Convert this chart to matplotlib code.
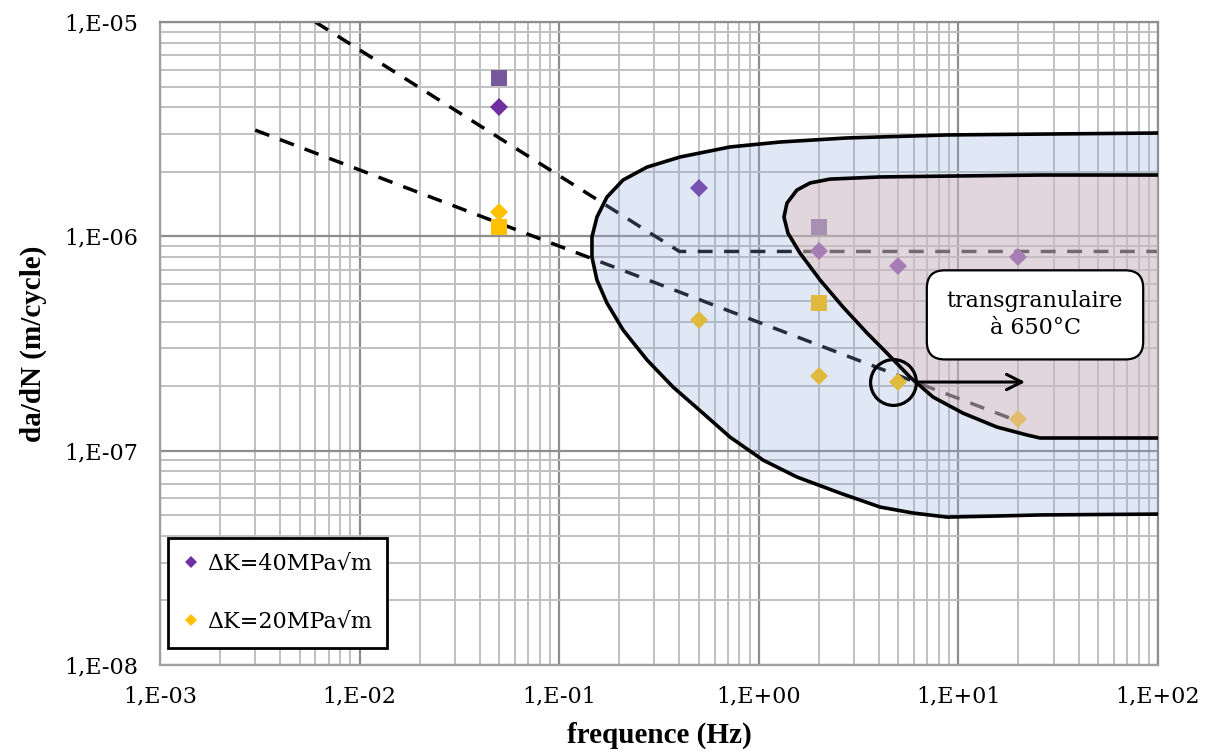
#!/usr/bin/python3

import numpy as np
import matplotlib
matplotlib.use('Agg')
import matplotlib.pyplot as plt
from matplotlib.ticker import LogLocator, FixedLocator, NullFormatter

# measured points, diamonds
freq = [0.05, 0.5, 2, 5, 20]
dadn_40 = [4.0e-6, 1.68e-6, 8.5e-7, 7.25e-7, 8.0e-7]
dadn_20 = [1.3e-6, 4.05e-7, 2.23e-7, 2.09e-7, 1.4e-7]

# square points (not in legend)
freq_sq = [0.05, 2]
dadn_sq40 = [5.5e-6, 1.1e-6]
dadn_sq20 = [1.1e-6, 4.9e-7]

# dashed trend lines
trend40_f = [0.006, 0.40, 100]
trend40_v = [1.0e-5, 8.5e-7, 8.5e-7]
trend20_f = [0.003, 20.4]
trend20_v = [3.13e-6, 1.36e-7]

# hand drawn domains (log10 freq, log10 da/dN)
blue_lf = [2.0, 1.409, 0.943, 0.442, 0.106, -0.144, -0.395, -0.560, -0.680, -0.761, -0.811,
           -0.836, -0.836, -0.811, -0.761, -0.680, -0.560, -0.430, -0.280, -0.144, 0.021,
           0.191, 0.407, 0.607, 0.773, 0.943, 1.193, 1.409, 2.0]
blue_lv = [-5.518, -5.523, -5.527, -5.541, -5.560, -5.583, -5.630, -5.677, -5.737, -5.817, -5.910,
           -6.003, -6.097, -6.204, -6.311, -6.437, -6.577, -6.703, -6.825, -6.937, -7.044,
           -7.123, -7.198, -7.263, -7.291, -7.310, -7.305, -7.300, -7.296]
pink_lf = [2.0, 1.409, 0.943, 0.607, 0.357, 0.257, 0.191, 0.141, 0.126, 0.146, 0.206, 0.307,
           0.422, 0.542, 0.642, 0.758, 0.873, 1.023, 1.193, 1.344, 1.409, 2.0]
pink_lv = [-5.714, -5.714, -5.719, -5.723, -5.733, -5.751, -5.784, -5.845, -5.910, -5.985, -6.078, -6.204,
           -6.330, -6.451, -6.545, -6.657, -6.750, -6.825, -6.890, -6.927, -6.941, -6.941]

labels = ['\u0394K=40MPa\u221am', '\u0394K=20MPa\u221am']
xticks = [1e-3, 1e-2, 1e-1, 1e0, 1e1, 1e2]
xtick_labels = ['1,E-03', '1,E-02', '1,E-01', '1,E+00', '1,E+01', '1,E+02']
yticks = [1e-8, 1e-7, 1e-6, 1e-5]
ytick_labels = ['1,E-08', '1,E-07', '1,E-06', '1,E-05']

purple = '#7030A0'
yellow = '#FFC000'


def main():
	fig = plt.figure(figsize=(12.06, 7.56), dpi=100)
	ax = fig.add_axes([0.1327, 0.1204, 0.8275, 0.8505])
	ax.set_xscale('log')
	ax.set_yscale('log')
	ax.set_xlim(1e-3, 1e2)
	ax.set_ylim(1e-8, 1e-5)

	ax.xaxis.set_major_locator(FixedLocator(xticks))
	ax.yaxis.set_major_locator(FixedLocator(yticks))
	ax.set_xticklabels(xtick_labels)
	ax.set_yticklabels(ytick_labels)
	ax.xaxis.set_minor_locator(LogLocator(base=10, subs=np.arange(2, 10), numticks=20))
	ax.yaxis.set_minor_locator(LogLocator(base=10, subs=np.arange(2, 10), numticks=20))
	ax.xaxis.set_minor_formatter(NullFormatter())
	ax.yaxis.set_minor_formatter(NullFormatter())
	ax.grid(which='major', color='#8e8e8e', lw=1.6, zorder=0)
	ax.grid(which='minor', color='#c0c0c0', lw=1.4, zorder=0)
	ax.set_axisbelow(True)
	ax.tick_params(which='both', length=0)
	ax.tick_params(axis='y', pad=16, labelsize=16)
	ax.tick_params(axis='x', pad=15, labelsize=16)
	for lab in ax.get_xticklabels() + ax.get_yticklabels():
		lab.set_family('DejaVu Serif')
	for s in ['left', 'bottom']:
		ax.spines[s].set_color('#a0a0a0')
		ax.spines[s].set_linewidth(1.6)
	for s in ['top', 'right']:
		ax.spines[s].set_color('#8e8e8e')
		ax.spines[s].set_linewidth(1.6)

	# trend lines and points under the domains
	ax.plot(trend40_f, trend40_v, color='black', lw=2.5, dashes=(4.3, 3.3), zorder=2)
	ax.plot(trend20_f, trend20_v, color='black', lw=2.5, dashes=(4.3, 3.3), zorder=2)
	ax.plot(freq_sq, dadn_sq40, 's', color='#76599A', ms=12, mew=0, zorder=2)
	ax.plot(freq_sq, dadn_sq20, 's', color=yellow, ms=12, mew=0, zorder=2)
	ax.plot(freq, dadn_40, 'D', color=purple, ms=9, mew=0, zorder=2)
	ax.plot(freq, dadn_20, 'D', color=yellow, ms=9, mew=0, zorder=2)

	# domains
	bf = np.power(10.0, blue_lf)
	bv = np.power(10.0, blue_lv)
	pf = np.power(10.0, pink_lf)
	pv = np.power(10.0, pink_lv)
	ax.fill(bf, bv, color='#8FADE1', alpha=0.27, lw=0, zorder=3)
	ax.fill(pf, pv, color='#E6BEBB', alpha=0.42, lw=0, zorder=3)
	ax.plot(bf, bv, color='black', lw=2.6, zorder=4, solid_joinstyle='round', solid_capstyle='round')
	ax.plot(pf, pv, color='black', lw=2.6, zorder=4, solid_joinstyle='round', solid_capstyle='round')

	# annotation
	ax.plot([4.7], [2.09e-7], 'o', ms=33, mfc='none', mec='black', mew=2.3, zorder=5)
	ax.annotate('', xy=(22.3, 2.09e-7), xytext=(6.07, 2.09e-7),
				arrowprops=dict(arrowstyle='->,head_length=1.1,head_width=0.55', color='black', lw=2.2),
				zorder=5)
	ax.text(24.2, 4.3e-7, 'transgranulaire\n\u00e0 650\u00b0C', ha='center', va='center',
			family='DejaVu Serif', fontsize=16, linespacing=1.3, zorder=6,
			bbox=dict(boxstyle='round,pad=0.9,rounding_size=0.8', fc='white', ec='black', lw=1.6))

	# legend with diamonds only
	h1, = ax.plot([], [], 'D', color=purple, ms=6.5, mew=0, label=labels[0])
	h2, = ax.plot([], [], 'D', color=yellow, ms=6.5, mew=0, label=labels[1])
	leg = ax.legend(handles=[h1, h2], loc='lower left', bbox_to_anchor=(0.008, 0.026),
					borderaxespad=0, fancybox=False, framealpha=1, edgecolor='black',
					prop={'family': 'DejaVu Serif', 'size': 16}, handlelength=0.7,
					handletextpad=0.35, labelspacing=1.6, borderpad=0.7)
	leg.get_frame().set_linewidth(2.0)
	leg.set_zorder(7)

	ax.set_xlabel('frequence (Hz)', family='Liberation Serif', fontweight='bold', fontsize=21, labelpad=10)
	ax.set_ylabel('da/dN (m/cycle)', family='Liberation Serif', fontweight='bold', fontsize=21, labelpad=12)

	fig.savefig('out.png', dpi=100)


if __name__ == '__main__':
	main()
